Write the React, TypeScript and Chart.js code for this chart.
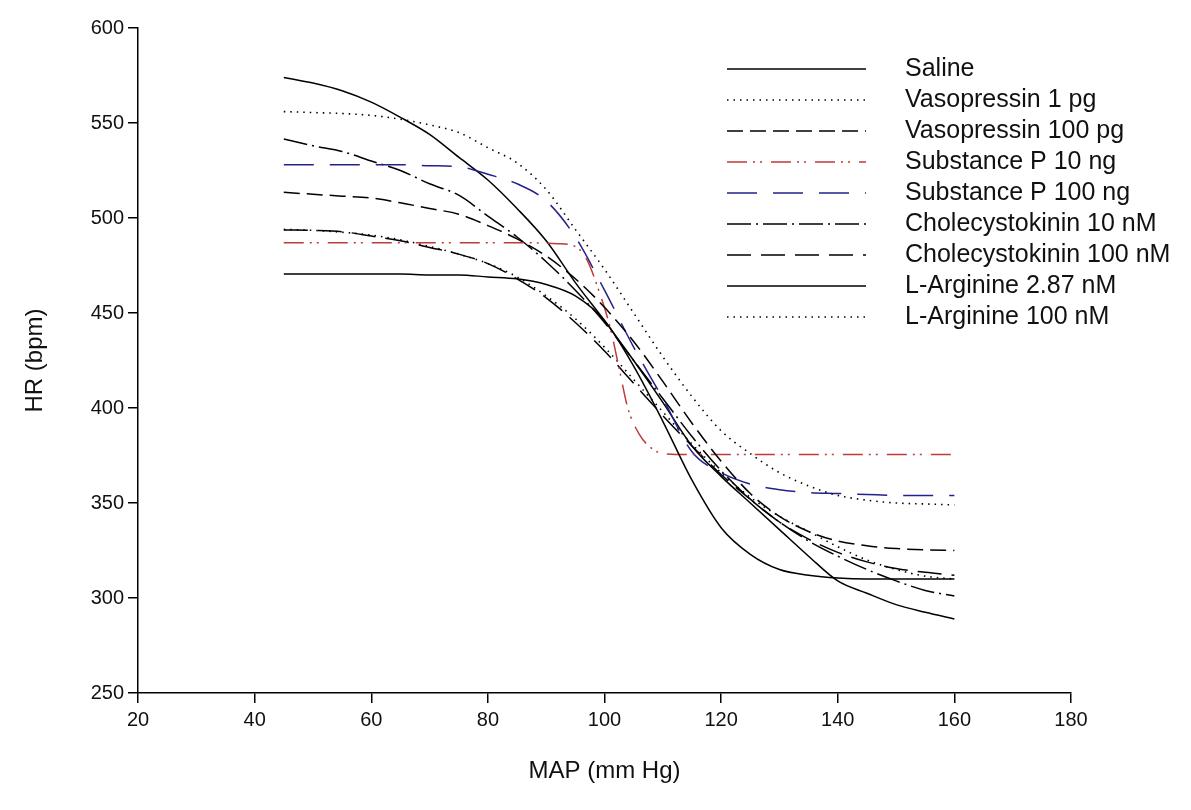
import React, { useEffect, useRef } from "react";
import { Chart, registerables } from "chart.js";

Chart.register(...registerables);

// ---- data ----
const mapX = [45, 50, 55, 60, 65, 70, 75, 80, 85, 90, 95, 100, 105, 110, 115, 120, 125, 130, 135, 140, 145, 150, 155, 160];

const saline = [470.5, 470.5, 470.5, 470.5, 470.5, 470, 470, 469, 468, 465, 459, 446, 422, 393, 362, 337, 323, 315, 312, 310.5, 310, 310, 310, 310];
const vasopressin1 = [556, 555.5, 555, 554, 552, 549, 545, 537, 529, 515, 494, 473, 450, 427, 406, 388, 376, 366, 359, 354, 351.5, 350, 349.5, 349];
const vasopressin100 = [513.5, 512.5, 511.5, 510.5, 508, 505, 502, 496, 489, 480, 468, 453, 435, 414, 392, 372, 355, 343, 335, 330, 327.5, 326, 325.3, 325];

const substanceP10X = [45, 55, 65, 75, 85, 92, 95, 97, 99, 101, 102.5, 104, 106, 108, 110, 115, 125, 135, 145, 160];
const substanceP10 = [487, 487, 487, 487, 487, 486.5, 485, 478, 462, 442, 421, 400, 386, 379, 376, 375.5, 375.5, 375.5, 375.5, 375.5];

const substanceP100 = [528, 528, 528, 528, 528, 527.5, 527, 523, 518, 509, 490, 462, 432, 405, 377, 366, 360, 357, 355.5, 355, 354.5, 354, 354, 354];
const cck10 = [541.6, 538, 535, 530, 525, 518, 512, 501, 490, 477, 462, 445, 425, 405, 385, 367, 352, 340, 330, 322, 315, 309, 304, 301];
const cck100 = [493.7, 493.5, 492.8, 490.5, 488, 484.5, 481, 476, 468, 458, 445, 430, 413, 396, 380, 365, 352, 340, 331, 324, 319, 315.5, 313.5, 312];
const lArginine287 = [574, 571, 567, 561, 553, 544, 532, 520, 505, 488, 466, 446, 425, 403, 380, 364, 350, 336, 322, 309, 302.5, 296.5, 292.5, 289];
const lArginine100 = [494, 493.5, 492.5, 491, 488.5, 485, 481, 476, 469, 459, 447, 432, 415, 398, 381, 366, 353, 343, 335, 327, 320, 315, 311.5, 310];

const seriesLabels = [
  "Saline",
  "Vasopressin 1 pg",
  "Vasopressin 100 pg",
  "Substance P 10 ng",
  "Substance P 100 ng",
  "Cholecystokinin 10 nM",
  "Cholecystokinin 100 nM",
  "L-Arginine 2.87 nM",
  "L-Arginine 100 nM",
];

const xTitle = "MAP (mm Hg)";
const yTitle = "HR (bpm)";

const pts = (xs: number[], ys: number[]) => xs.map((x, i) => ({ x, y: ys[i] }));

const FONT = '"Liberation Sans", Arial, sans-serif';

const legendPlugin = {
  id: "customLegend",
  afterDraw(chart: any) {
    const ctx = chart.ctx;
    const lineX0 = 727;
    const lineX1 = 866;
    const textX = 905;
    const top = 69;
    const row = 31;
    ctx.save();
    chart.data.datasets.forEach((ds: any, i: number) => {
      const y = top + i * row;
      ctx.beginPath();
      ctx.setLineDash(ds.borderDash || []);
      ctx.strokeStyle = ds.borderColor;
      ctx.lineWidth = ds.borderWidth;
      ctx.moveTo(lineX0, y);
      ctx.lineTo(lineX1, y);
      ctx.stroke();
      ctx.setLineDash([]);
      ctx.fillStyle = "#111";
      ctx.font = `25px ${FONT}`;
      ctx.textBaseline = "middle";
      ctx.textAlign = "left";
      ctx.fillText(ds.label, textX, y);
    });
    ctx.restore();
  },
};

export default function App() {
  const ref = useRef<HTMLCanvasElement | null>(null);

  useEffect(() => {
    document.body.style.margin = "0";
    const canvas = ref.current;
    if (!canvas) return;

    const styles = [
      { color: "#000", dash: [] as number[], width: 1.5 },
      { color: "#000", dash: [1.5, 5], width: 1.6 },
      { color: "#000", dash: [16, 7], width: 1.5 },
      { color: "#c03a3a", dash: [20, 6, 2, 5, 2, 9], width: 1.5 },
      { color: "#22228a", dash: [30, 16], width: 1.5 },
      { color: "#000", dash: [24, 5, 2, 5], width: 1.5 },
      { color: "#000", dash: [24, 10], width: 1.5 },
      { color: "#000", dash: [] as number[], width: 1.5 },
      { color: "#000", dash: [1.5, 5], width: 1.6 },
    ];
    const dataSets = [
      pts(mapX, saline),
      pts(mapX, vasopressin1),
      pts(mapX, vasopressin100),
      pts(substanceP10X, substanceP10),
      pts(mapX, substanceP100),
      pts(mapX, cck10),
      pts(mapX, cck100),
      pts(mapX, lArginine287),
      pts(mapX, lArginine100),
    ];

    const chart = new Chart(canvas, {
      type: "line",
      data: {
        datasets: dataSets.map((d, i) => ({
          label: seriesLabels[i],
          data: d,
          borderColor: styles[i].color,
          borderDash: styles[i].dash,
          borderWidth: styles[i].width,
          pointRadius: 0,
          fill: false,
          cubicInterpolationMode: "monotone" as const,
        })),
      },
      options: {
        responsive: false,
        animation: false,
        devicePixelRatio: 1,
        layout: { padding: { top: 28, right: 120, left: 0, bottom: 0 } },
        plugins: {
          legend: { display: false },
          tooltip: { enabled: false },
        },
        scales: {
          x: {
            type: "linear",
            min: 20,
            max: 180,
            ticks: { stepSize: 20, color: "#111", font: { family: FONT, size: 20 }, padding: 5 },
            grid: { display: true, drawOnChartArea: false, drawTicks: true, tickLength: 10, color: "#000", lineWidth: 1.5 },
            border: { display: true, color: "#000", width: 1.5 },
            title: { display: true, text: xTitle, color: "#111", font: { family: FONT, size: 24 }, padding: { top: 0, bottom: 24 } },
            afterFit: (s: any) => {
              s.height = 117;
            },
          },
          y: {
            type: "linear",
            min: 250,
            max: 600,
            ticks: { stepSize: 50, color: "#111", font: { family: FONT, size: 20 }, padding: 4 },
            grid: { display: true, drawOnChartArea: false, drawTicks: true, tickLength: 10, color: "#000", lineWidth: 1.5 },
            border: { display: true, color: "#000", width: 1.5 },
            title: { display: true, text: yTitle, color: "#111", font: { family: FONT, size: 24 }, padding: { top: 21, bottom: 0 } },
            afterFit: (s: any) => {
              s.width = 138;
            },
          },
        },
      },
      plugins: [legendPlugin],
    });

    return () => chart.destroy();
  }, []);

  return (
    <div style={{ position: "absolute", left: 0, top: 0, width: 1191, height: 810, background: "#fff" }}>
      <canvas ref={ref} width={1191} height={810} style={{ display: "block" }} />
    </div>
  );
}
